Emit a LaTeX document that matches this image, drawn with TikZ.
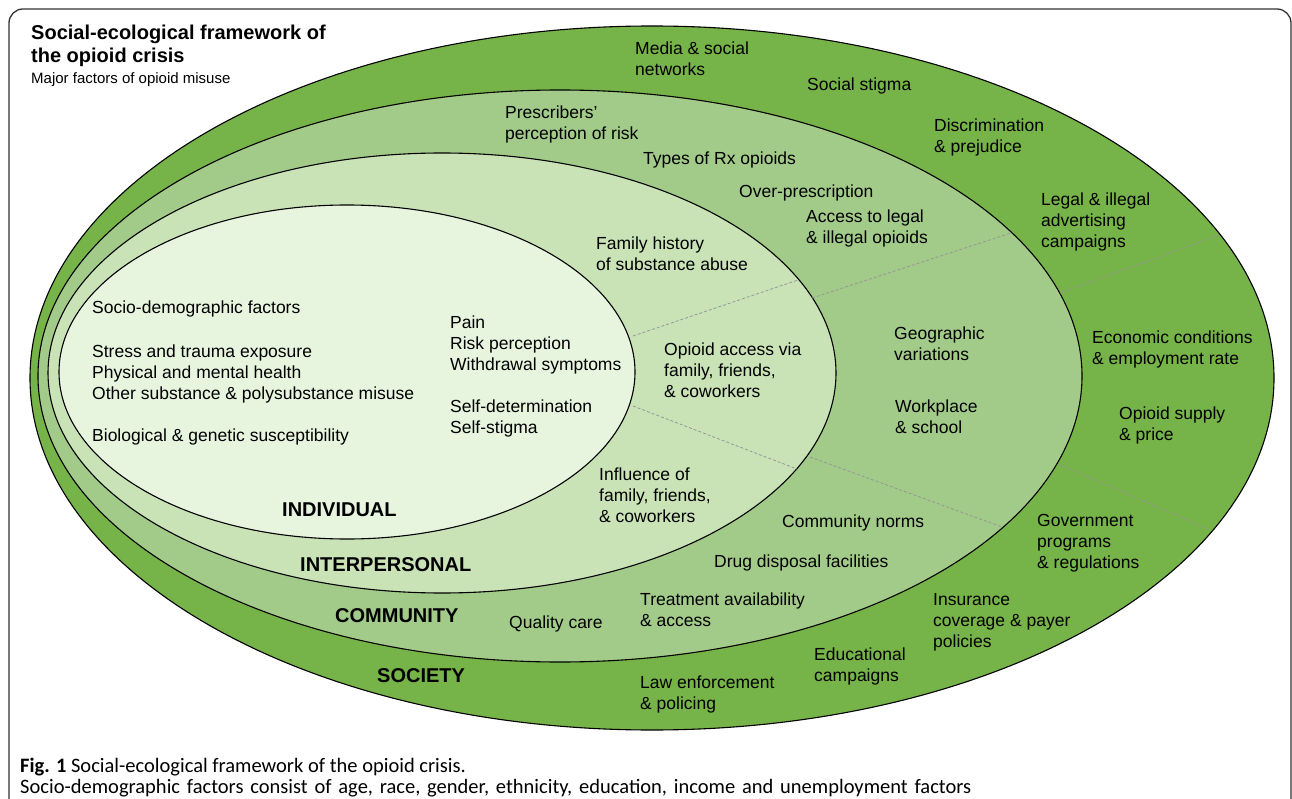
\documentclass[tikz,border=0pt]{standalone}
\usepackage{fontspec}
\setmainfont{Liberation Sans}
\newfontfamily\capfont{Carlito}
\definecolor{socg}{RGB}{118,179,72}
\definecolor{comg}{RGB}{162,203,137}
\definecolor{intg}{RGB}{201,227,183}
\definecolor{indg}{RGB}{231,245,223}
\definecolor{framec}{RGB}{50,50,50}
\definecolor{sepc}{RGB}{150,150,150}
\newcommand{\ml}[1]{\begin{tabular}[t]{@{}l@{}}#1\end{tabular}}
\tikzset{
  lbl/.style={anchor=base west, inner sep=0pt, font=\fontsize{17.5}{21}\selectfont},
  lvl/.style={anchor=base west, inner sep=0pt, font=\bfseries\fontsize{20}{22}\selectfont},
  ring/.style={draw=black, line width=1.1pt},
  sepline/.style={draw=sepc, line width=0.8pt, dash pattern=on 3pt off 2pt},
  capt/.style={anchor=base west, inner sep=0pt, font=\capfont\fontsize{20.5}{21}\selectfont}
}
\begin{document}
\begin{tikzpicture}[x=1pt,y=-1pt]
\clip (0,0) rectangle (1292,799);
\fill[white] (0,0) rectangle (1292,799);
\draw[framec, line width=1.3pt, rounded corners=14pt] (9,9) rectangle (1291,850);

% rings
\draw[ring, fill=socg] (652,378) ellipse [x radius=622, y radius=352];
\draw[ring, fill=comg] (560,376) ellipse [x radius=522, y radius=286];
\draw[ring, fill=intg] (442,373) ellipse [x radius=394, y radius=220];
\draw[ring, fill=indg] (347,372) ellipse [x radius=288, y radius=167];

% separators
\draw[sepline] (633,336) -- (798,280);
\draw[sepline] (812,298) -- (1011,233);
\draw[sepline] (1060,293) -- (1219,235);
\draw[sepline] (633,406) -- (797,469);
\draw[sepline] (810,457) -- (1002,527);
\draw[sepline] (1060,465) -- (1208,529);

% title
\node[anchor=base west, inner sep=0pt, font=\bfseries\fontsize{20}{23}\selectfont] (title) at (31,40) {\ml{Social-ecological framework of\\the opioid crisis}};
\node[anchor=base west, inner sep=0pt, font=\fontsize{15}{18}\selectfont] (subtitle) at (31,84) {Major factors of opioid misuse};

% society
\node[lbl] (media) at (635,55) {\ml{Media \& social\\networks}};
\node[lbl] (stigma) at (807,91) {Social stigma};
\node[lbl] (discr) at (934,132) {\ml{Discrimination\\\& prejudice}};
\node[lbl] (advert) at (1041,206) {\ml{Legal \& illegal\\advertising\\campaigns}};
\node[lbl] (econ) at (1092,343) {\ml{Economic conditions\\\& employment rate}};
\node[lbl] (supply) at (1119,419) {\ml{Opioid supply\\\& price}};
\node[lbl] (gov) at (1037,526) {\ml{Government\\programs\\\& regulations}};
\node[lbl] (insur) at (933,605) {\ml{Insurance\\coverage \& payer\\policies}};
\node[lbl] (educ) at (814,660) {\ml{Educational\\campaigns}};
\node[lbl] (law) at (640,688) {\ml{Law enforcement\\\& policing}};
\node[lvl] (society) at (377,682) {SOCIETY};

% community
\node[lbl] (prescr) at (505,119) {\ml{Prescribers'\\perception of risk}};
\node[lbl] (types) at (643,165) {Types of Rx opioids};
\node[lbl] (over) at (739,198) {Over-prescription};
\node[lbl] (access) at (806,223) {\ml{Access to legal\\\& illegal opioids}};
\node[lbl] (geo) at (894,339) {\ml{Geographic\\variations}};
\node[lbl] (work) at (895,412) {\ml{Workplace\\\& school}};
\node[lbl] (norms) at (782,527) {Community norms};
\node[lbl] (drug) at (714,567) {Drug disposal facilities};
\node[lbl] (treat) at (640,605) {\ml{Treatment availability\\\& access}};
\node[lbl] (quality) at (509,628) {Quality care};
\node[lvl] (community) at (335,622) {COMMUNITY};

% interpersonal
\node[lbl] (famhist) at (596,250) {\ml{Family history\\of substance abuse}};
\node[lbl] (opaccess) at (664,355) {\ml{Opioid access via\\family, friends,\\\& coworkers}};
\node[lbl] (influence) at (599,480) {\ml{Influence of\\family, friends,\\\& coworkers}};
\node[lvl] (interpersonal) at (300,571) {INTERPERSONAL};

% individual
\node[lbl] (socio) at (92,314) {Socio-demographic factors};
\node[lbl] (stress) at (92,357) {\ml{Stress and trauma exposure\\Physical and mental health\\Other substance \& polysubstance misuse}};
\node[lbl] (bio) at (92,441) {Biological \& genetic susceptibility};
\node[lbl] (pain) at (450,328) {\ml{Pain\\Risk perception\\Withdrawal symptoms}};
\node[lbl] (selfdet) at (450,412) {\ml{Self-determination\\Self-stigma}};
\node[lvl] (individual) at (282,516) {INDIVIDUAL};

% caption
\node[capt] (cap1) at (20,772) {\textbf{Fig. 1} Social-ecological framework of the opioid crisis.};
\node[capt] (cap2) at (20,793) {\spaceskip=6.8pt Socio-demographic factors consist of age, race, gender, ethnicity, education, income and unemployment factors};
\end{tikzpicture}
\end{document}
